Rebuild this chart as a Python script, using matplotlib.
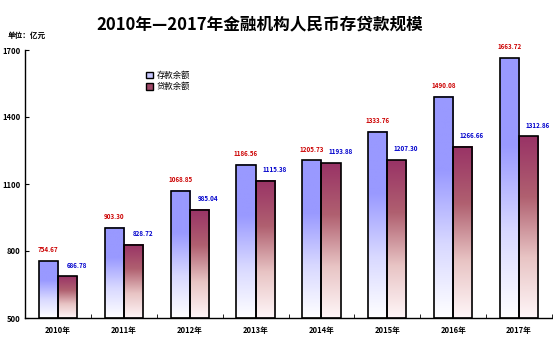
import matplotlib
matplotlib.use("Agg")
import matplotlib.pyplot as plt
import numpy as np
from matplotlib.colors import LinearSegmentedColormap
from matplotlib.patches import Patch

plt.rcParams['font.family'] = ['Noto Sans CJK SC', 'DejaVu Sans']

years = ["2010年", "2011年", "2012年", "2013年", "2014年", "2015年", "2016年", "2017年"]
deposits = [754.67, 903.30, 1068.85, 1186.56, 1205.73, 1333.76, 1490.08, 1663.72]
loans = [686.78, 828.72, 985.04, 1115.38, 1193.88, 1207.30, 1266.66, 1312.86]
yticks = [500, 800, 1100, 1400, 1700]

fig = plt.figure(figsize=(5.53, 3.38), dpi=100)
ax = fig.add_axes([25/553, 20/338, 527/553, 268/338])
ax.set_xlim(-0.5, 7.5)
ax.set_ylim(500, 1700)

cmap_dep = LinearSegmentedColormap.from_list("dep", ["#ffffff", "#d8d8ff", "#9999ff", "#9999ff"])
cmap_loan = LinearSegmentedColormap.from_list("loan", ["#fff6f8", "#e8c4c4", "#b06070", "#993366"])

w = 0.29
grad = np.linspace(0, 1, 256).reshape(-1, 1)
x = np.arange(len(years))
for i in x:
    for val, off, cm in [(deposits[i], -w/2, cmap_dep), (loans[i], w/2, cmap_loan)]:
        l, r = i + off - w/2, i + off + w/2
        ax.imshow(grad, extent=[l, r, 500, val], origin='lower', aspect='auto', cmap=cm, zorder=2)
        ax.add_patch(plt.Rectangle((l, 500), w, val - 500, fill=False, edgecolor='black', lw=1.2, zorder=3))
    ax.text(i - w/2, deposits[i] + 50, f"{deposits[i]:.2f}", color='#cc0000', fontsize=4.5,
            fontweight='bold', ha='center', va='center')
    ax.text(i + w/2 + 0.14, loans[i] + 50, f"{loans[i]:.2f}", color='#0000cc', fontsize=4.5,
            fontweight='bold', ha='center', va='center')

ax.set_xlim(-0.5, 7.5)
ax.set_ylim(500, 1700)
ax.spines['top'].set_visible(False)
ax.spines['right'].set_visible(False)
ax.spines['left'].set_linewidth(1.0)
ax.spines['bottom'].set_linewidth(1.0)
ax.set_xticks(x)
ax.set_xticklabels(years, fontsize=5.5, fontweight='bold')
ax.tick_params(axis='x', which='major', length=0, pad=6)
ax.set_xticks(np.arange(-0.5, 8.0, 1.0), minor=True)
ax.tick_params(axis='x', which='minor', direction='in', length=3)
ax.set_yticks(yticks)
ax.set_yticklabels([str(v) for v in yticks], fontsize=5.5, fontweight='bold')
ax.tick_params(axis='y', direction='in', length=3, pad=3)

handles = [Patch(facecolor='#c8c8ff', edgecolor='black', label='存款余额'),
           Patch(facecolor='#a04868', edgecolor='black', label='贷款余额')]
ax.legend(handles=handles, loc='upper left', bbox_to_anchor=(0.215, 0.95), frameon=False,
          fontsize=6, handlelength=0.9, handleheight=0.9, handletextpad=0.4, labelspacing=0.3)

fig.text(260/553, 1 - 24/338, "2010年—2017年金融机构人民币存贷款规模", ha='center', va='center',
         fontsize=12, fontweight='bold')
fig.text(8/553, 1 - 35/338, "单位：亿元", ha='left', va='center', fontsize=5.5, fontweight='bold')

fig.savefig("out.png", dpi=100)
